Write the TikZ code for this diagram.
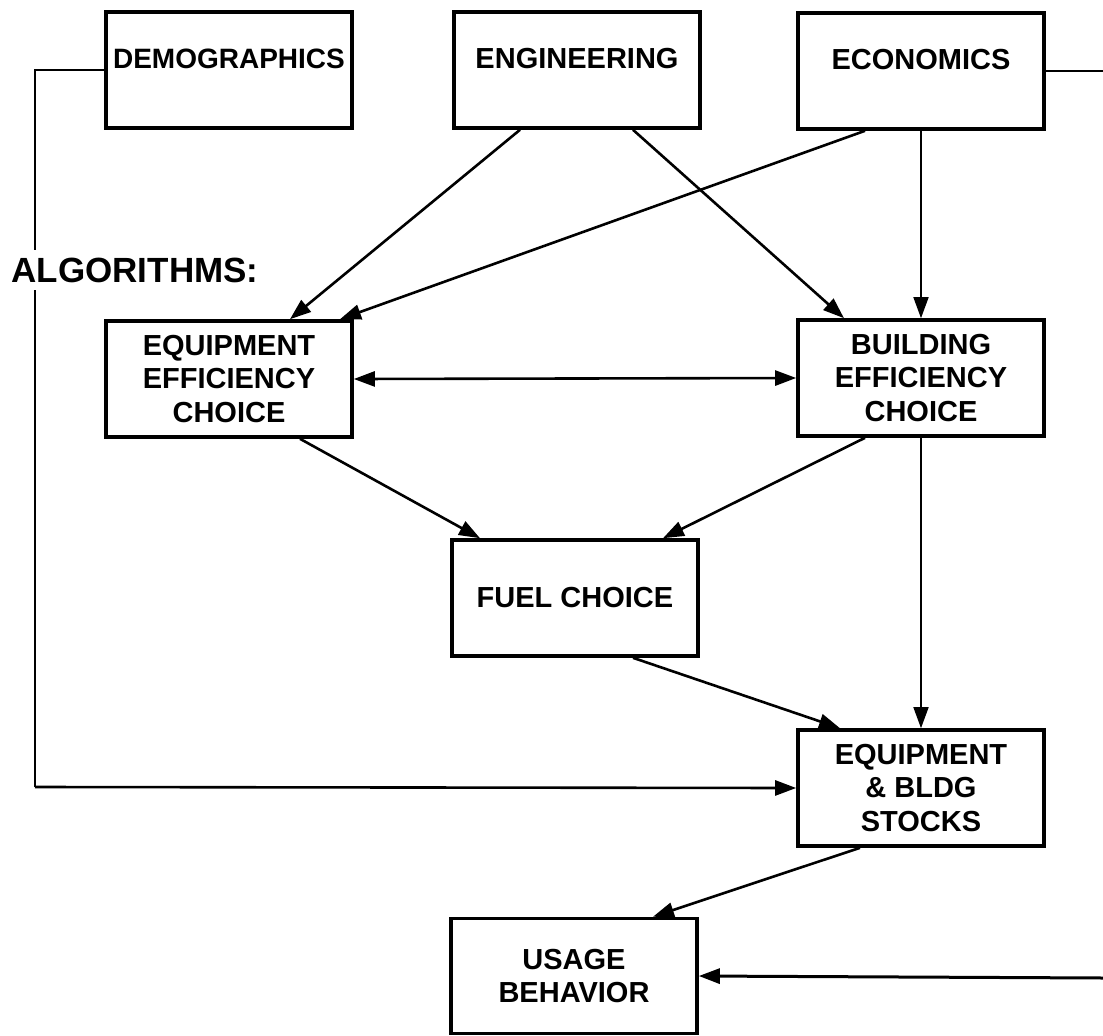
\documentclass[tikz,border=0pt]{standalone}
\usepackage{fontspec}
\setmainfont{Liberation Sans}
\usetikzlibrary{arrows.meta}
\begin{document}
\begin{tikzpicture}[x=1pt,y=-1pt,
  box/.style={draw, line width=3.6pt, minimum width=246pt, minimum height=116pt, inner sep=0pt, align=center, font=\fontsize{29}{33.5}\selectfont\bfseries},
  topbox/.style={box, text height=21pt, text depth=24pt},
  tip/.style={-{Triangle[length=21pt,width=15pt]}},
  conn/.style={line width=2.6pt, tip},
  thinconn/.style={line width=1.6pt, tip},
  plainline/.style={line width=2.4pt},
  algo/.style={fill=white, inner sep=8pt, font=\fontsize{35}{40}\selectfont\bfseries}]
\useasboundingbox (0,0) rectangle (1103,1036);
\fill[white] (0,0) rectangle (1103,1036);

% nodes
\node[topbox, font=\fontsize{28}{33}\selectfont\bfseries] (demo) at (229,70) {DEMOGRAPHICS};
\node[topbox] (eng) at (577,70) {ENGINEERING};
\node[topbox] (econ) at (921,71) {ECONOMICS};
\node[box] (equip) at (229,379) {EQUIPMENT\\EFFICIENCY\\CHOICE};
\node[box] (bldg) at (921,378) {BUILDING\\EFFICIENCY\\CHOICE};
\node[box] (fuel) at (575,598) {FUEL CHOICE};
\node[box] (stocks) at (921,788) {EQUIPMENT\\\&~BLDG\\STOCKS};
\node[box, minimum height=115pt] (usage) at (574,976) {USAGE\\BEHAVIOR};

% free ends
\coordinate (dcorner) at (35,787);
\coordinate (econout) at (1103,71);
\coordinate (usagein) at (1103,978);

% connectors
\draw[plainline] (demo.west) -| (dcorner);
\draw[conn] (dcorner) -- (stocks.west);
\draw[plainline] (econ.east) -- (econout);
\draw[conn, line width=3pt] (usagein) -- (usage.east);

\draw[conn] ([xshift=-57pt]eng.south) -- ([xshift=61pt]equip.north);
\draw[conn] ([xshift=-56pt]econ.south) -- ([xshift=111pt]equip.north);
\draw[conn] ([xshift=56pt]eng.south) -- ([xshift=-77pt]bldg.north);
\draw[thinconn] (econ.south) -- (bldg.north);
\draw[line width=2.6pt, {Triangle[length=21pt,width=15pt]}-{Triangle[length=21pt,width=15pt]}] (equip.east) -- (bldg.west);
\draw[conn] ([xshift=71pt]equip.south) -- ([xshift=-95pt]fuel.north);
\draw[conn] ([xshift=-56pt]bldg.south) -- ([xshift=88pt]fuel.north);
\draw[thinconn] (bldg.south) -- (stocks.north);
\draw[conn] ([xshift=58pt]fuel.south) -- ([xshift=-81pt]stocks.north);
\draw[conn] ([xshift=-61pt]stocks.south) -- ([xshift=79pt]usage.north);

% label
\node[algo] (algorithms) at (135,270) {ALGORITHMS:};
\end{tikzpicture}
\end{document}
